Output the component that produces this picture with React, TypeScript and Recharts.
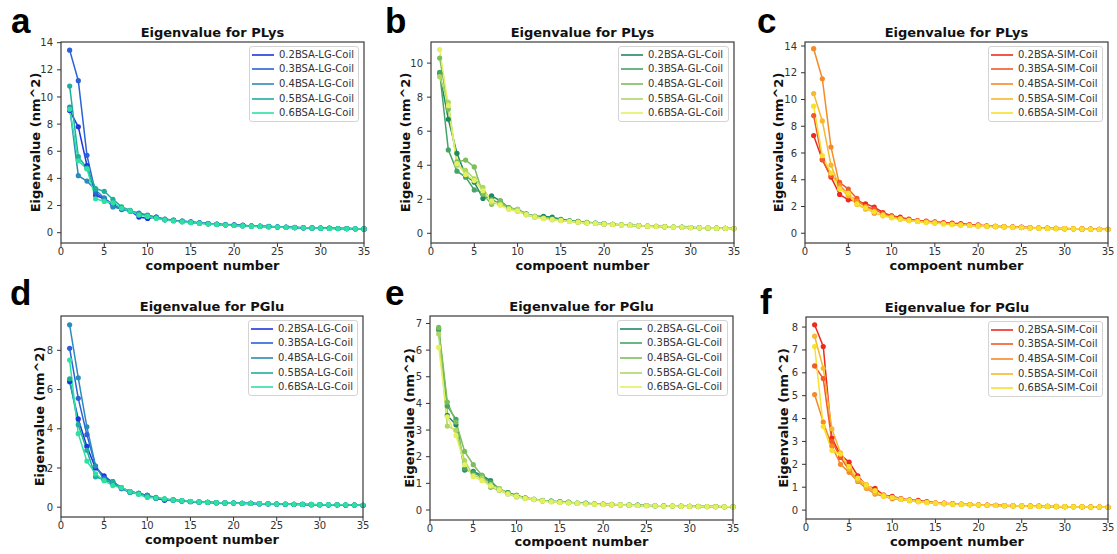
import React from "react";
import { LineChart, Line, XAxis, YAxis, Legend } from "recharts";

// component index (x axis) and shared tick marks
const components = [
  1, 2, 3, 4, 5, 6, 7, 8, 9, 10, 11, 12, 13, 14, 15, 16, 17, 18, 19, 20, 21,
  22, 23, 24, 25, 26, 27, 28, 29, 30, 31, 32, 33, 34, 35,
];
const xTicks = [0, 5, 10, 15, 20, 25, 30, 35];

const lgNames = ["0.2BSA-LG-Coil", "0.3BSA-LG-Coil", "0.4BSA-LG-Coil", "0.5BSA-LG-Coil", "0.6BSA-LG-Coil"];
const glNames = ["0.2BSA-GL-Coil", "0.3BSA-GL-Coil", "0.4BSA-GL-Coil", "0.5BSA-GL-Coil", "0.6BSA-GL-Coil"];
const simNames = ["0.2BSA-SIM-Coil", "0.3BSA-SIM-Coil", "0.4BSA-SIM-Coil", "0.5BSA-SIM-Coil", "0.6BSA-SIM-Coil"];

const lgColors = ["#1e36e0", "#2a62d8", "#2b8bbb", "#1eae9c", "#2fe0a2"];
const glColors = ["#1f8a60", "#45a466", "#7cbd5e", "#b0d666", "#e4f060"];
const simColors = ["#ee2a1e", "#f25a26", "#f58a26", "#f6b82e", "#f8e02e"];

// a: PLys, LG
const plysLg02 = [9.0, 7.8, 4.95, 2.75, 2.5, 2.1, 1.75, 1.6, 1.15, 1.05, 1.15, 0.95, 0.9, 0.84, 0.78, 0.72, 0.67, 0.63, 0.6, 0.58, 0.55, 0.5, 0.48, 0.46, 0.43, 0.41, 0.39, 0.37, 0.35, 0.34, 0.33, 0.31, 0.3, 0.29, 0.28];
const plysLg03 = [13.45, 11.2, 5.7, 2.9, 2.55, 2.0, 1.7, 1.6, 1.4, 1.25, 1.15, 1.0, 0.92, 0.85, 0.79, 0.72, 0.67, 0.62, 0.58, 0.55, 0.52, 0.49, 0.47, 0.45, 0.42, 0.4, 0.38, 0.36, 0.35, 0.33, 0.32, 0.31, 0.3, 0.29, 0.28];
const plysLg04 = [9.25, 4.2, 3.8, 3.15, 2.55, 1.9, 1.75, 1.6, 1.45, 1.3, 1.1, 0.98, 0.9, 0.85, 0.78, 0.72, 0.66, 0.62, 0.58, 0.54, 0.52, 0.49, 0.47, 0.44, 0.42, 0.4, 0.38, 0.36, 0.34, 0.33, 0.32, 0.3, 0.3, 0.29, 0.28];
const plysLg05 = [10.8, 5.6, 4.75, 3.25, 3.05, 2.45, 1.9, 1.65, 1.35, 1.25, 1.1, 0.95, 0.88, 0.8, 0.75, 0.7, 0.65, 0.6, 0.57, 0.54, 0.51, 0.48, 0.46, 0.44, 0.42, 0.4, 0.38, 0.36, 0.34, 0.33, 0.32, 0.31, 0.3, 0.29, 0.28];
const plysLg06 = [9.1, 5.3, 4.7, 2.5, 2.3, 2.2, 1.8, 1.6, 1.3, 1.2, 1.05, 0.95, 0.87, 0.8, 0.74, 0.69, 0.64, 0.6, 0.56, 0.53, 0.5, 0.48, 0.46, 0.43, 0.41, 0.39, 0.37, 0.36, 0.34, 0.33, 0.31, 0.3, 0.29, 0.29, 0.28];

// b: PLys, GL
const plysGl02 = [9.4, 6.7, 4.7, 3.4, 3.0, 2.05, 2.2, 1.9, 1.5, 1.4, 1.15, 1.0, 1.0, 0.95, 0.82, 0.75, 0.7, 0.65, 0.6, 0.57, 0.53, 0.5, 0.48, 0.45, 0.43, 0.41, 0.39, 0.37, 0.36, 0.34, 0.33, 0.31, 0.3, 0.29, 0.28];
const plysGl03 = [9.45, 4.9, 3.65, 3.3, 2.55, 2.4, 2.0, 1.7, 1.5, 1.35, 1.1, 0.97, 0.9, 0.85, 0.78, 0.72, 0.67, 0.62, 0.58, 0.55, 0.52, 0.49, 0.47, 0.45, 0.42, 0.4, 0.38, 0.37, 0.35, 0.34, 0.32, 0.31, 0.3, 0.29, 0.28];
const plysGl04 = [10.3, 7.3, 4.2, 4.3, 3.9, 2.3, 1.7, 1.9, 1.45, 1.3, 1.1, 1.0, 0.9, 0.82, 0.77, 0.72, 0.67, 0.62, 0.58, 0.55, 0.52, 0.49, 0.47, 0.45, 0.43, 0.41, 0.39, 0.37, 0.35, 0.34, 0.32, 0.31, 0.3, 0.29, 0.28];
const plysGl05 = [9.2, 7.7, 4.0, 3.7, 3.2, 2.7, 1.8, 1.7, 1.45, 1.4, 1.1, 0.95, 0.88, 0.8, 0.75, 0.7, 0.66, 0.61, 0.58, 0.55, 0.52, 0.49, 0.47, 0.44, 0.42, 0.4, 0.38, 0.37, 0.35, 0.33, 0.32, 0.31, 0.3, 0.29, 0.28];
const plysGl06 = [10.8, 7.5, 4.1, 3.45, 3.1, 2.5, 1.9, 1.65, 1.4, 1.3, 1.1, 0.97, 0.86, 0.8, 0.75, 0.7, 0.65, 0.6, 0.57, 0.54, 0.51, 0.48, 0.46, 0.44, 0.42, 0.4, 0.38, 0.36, 0.35, 0.33, 0.32, 0.31, 0.3, 0.29, 0.28];

// c: PLys, SIM
const plysSim02 = [7.3, 5.5, 4.2, 2.9, 2.5, 2.4, 2.2, 1.95, 1.55, 1.3, 1.2, 1.05, 0.95, 0.9, 0.85, 0.8, 0.75, 0.72, 0.65, 0.62, 0.56, 0.52, 0.5, 0.47, 0.45, 0.42, 0.4, 0.38, 0.36, 0.35, 0.34, 0.32, 0.31, 0.3, 0.29];
const plysSim03 = [8.8, 5.5, 4.3, 3.8, 3.3, 2.6, 2.0, 1.8, 1.45, 1.3, 1.1, 1.0, 0.93, 0.87, 0.8, 0.74, 0.69, 0.64, 0.6, 0.57, 0.54, 0.51, 0.48, 0.46, 0.44, 0.41, 0.39, 0.37, 0.36, 0.34, 0.33, 0.32, 0.31, 0.3, 0.29];
const plysSim04 = [13.8, 11.55, 6.45, 3.6, 2.9, 2.4, 2.0, 1.5, 1.4, 1.2, 1.1, 0.98, 0.9, 0.85, 0.79, 0.73, 0.68, 0.63, 0.6, 0.56, 0.53, 0.5, 0.48, 0.45, 0.43, 0.41, 0.39, 0.37, 0.35, 0.34, 0.33, 0.31, 0.3, 0.29, 0.28];
const plysSim05 = [10.45, 8.4, 5.1, 3.4, 2.8, 2.15, 1.8, 1.6, 1.3, 1.2, 1.05, 0.95, 0.88, 0.82, 0.77, 0.71, 0.66, 0.62, 0.58, 0.55, 0.52, 0.49, 0.47, 0.45, 0.42, 0.4, 0.38, 0.37, 0.35, 0.34, 0.32, 0.31, 0.3, 0.29, 0.28];
const plysSim06 = [9.5, 5.8, 4.5, 3.3, 3.0, 2.2, 1.9, 1.6, 1.35, 1.15, 1.05, 0.95, 0.87, 0.8, 0.76, 0.7, 0.65, 0.61, 0.58, 0.55, 0.52, 0.49, 0.47, 0.44, 0.42, 0.4, 0.38, 0.36, 0.35, 0.34, 0.32, 0.31, 0.3, 0.29, 0.28];

// d: PGlu, LG
const pgluLg02 = [6.4, 4.5, 3.1, 2.0, 1.6, 1.25, 0.95, 0.8, 0.7, 0.6, 0.45, 0.35, 0.38, 0.32, 0.28, 0.26, 0.25, 0.23, 0.22, 0.21, 0.2, 0.19, 0.18, 0.17, 0.16, 0.15, 0.15, 0.14, 0.13, 0.13, 0.12, 0.12, 0.11, 0.11, 0.1];
const pgluLg03 = [8.1, 5.55, 3.7, 2.1, 1.5, 1.3, 1.0, 0.8, 0.7, 0.6, 0.45, 0.4, 0.37, 0.33, 0.29, 0.27, 0.25, 0.23, 0.22, 0.21, 0.2, 0.19, 0.18, 0.17, 0.16, 0.15, 0.15, 0.14, 0.13, 0.13, 0.12, 0.12, 0.11, 0.11, 0.1];
const pgluLg04 = [9.3, 6.6, 4.1, 2.1, 1.4, 1.2, 0.95, 0.75, 0.68, 0.6, 0.5, 0.4, 0.36, 0.32, 0.29, 0.26, 0.25, 0.23, 0.22, 0.21, 0.2, 0.19, 0.18, 0.17, 0.16, 0.16, 0.15, 0.14, 0.14, 0.13, 0.12, 0.12, 0.11, 0.11, 0.1];
const pgluLg05 = [6.55, 4.2, 2.9, 1.55, 1.4, 1.3, 1.0, 0.75, 0.7, 0.55, 0.48, 0.42, 0.36, 0.32, 0.29, 0.27, 0.25, 0.23, 0.22, 0.21, 0.2, 0.19, 0.18, 0.17, 0.16, 0.15, 0.15, 0.14, 0.13, 0.13, 0.12, 0.12, 0.11, 0.11, 0.1];
const pgluLg06 = [7.5, 3.75, 2.35, 1.7, 1.35, 1.1, 1.0, 0.8, 0.65, 0.5, 0.47, 0.43, 0.37, 0.33, 0.3, 0.27, 0.25, 0.24, 0.22, 0.21, 0.2, 0.19, 0.18, 0.17, 0.16, 0.16, 0.15, 0.14, 0.14, 0.13, 0.13, 0.12, 0.12, 0.11, 0.11];

// e: PGlu, GL
const pgluGl02 = [6.8, 3.55, 3.2, 1.5, 1.45, 1.3, 1.1, 0.75, 0.65, 0.55, 0.45, 0.4, 0.35, 0.33, 0.32, 0.3, 0.25, 0.26, 0.23, 0.22, 0.21, 0.2, 0.19, 0.18, 0.17, 0.16, 0.16, 0.15, 0.15, 0.14, 0.14, 0.13, 0.13, 0.12, 0.12];
const pgluGl03 = [6.75, 3.9, 3.4, 1.55, 1.4, 1.25, 1.05, 0.8, 0.65, 0.55, 0.46, 0.4, 0.36, 0.33, 0.3, 0.28, 0.26, 0.24, 0.23, 0.22, 0.2, 0.19, 0.18, 0.18, 0.17, 0.16, 0.16, 0.15, 0.14, 0.14, 0.13, 0.13, 0.13, 0.12, 0.12];
const pgluGl04 = [6.85, 4.05, 3.3, 2.2, 1.7, 1.3, 0.85, 0.75, 0.6, 0.5, 0.45, 0.4, 0.34, 0.32, 0.3, 0.28, 0.26, 0.24, 0.23, 0.21, 0.2, 0.19, 0.18, 0.17, 0.17, 0.16, 0.15, 0.15, 0.14, 0.14, 0.13, 0.13, 0.12, 0.12, 0.12];
const pgluGl05 = [6.6, 3.15, 3.0, 1.85, 1.3, 1.2, 0.95, 0.8, 0.62, 0.5, 0.44, 0.39, 0.34, 0.31, 0.29, 0.27, 0.25, 0.24, 0.22, 0.21, 0.2, 0.19, 0.18, 0.17, 0.16, 0.16, 0.15, 0.15, 0.14, 0.14, 0.13, 0.13, 0.12, 0.12, 0.12];
const pgluGl06 = [6.1, 3.5, 2.8, 1.7, 1.25, 1.1, 0.9, 0.75, 0.6, 0.52, 0.44, 0.39, 0.34, 0.31, 0.29, 0.27, 0.25, 0.23, 0.22, 0.21, 0.2, 0.19, 0.18, 0.17, 0.16, 0.16, 0.15, 0.15, 0.14, 0.14, 0.13, 0.13, 0.12, 0.12, 0.12];

// f: PGlu, SIM
const pgluSim02 = [8.1, 7.15, 3.15, 2.4, 2.1, 1.5, 1.05, 0.95, 0.65, 0.6, 0.5, 0.45, 0.42, 0.37, 0.32, 0.3, 0.28, 0.26, 0.24, 0.23, 0.22, 0.21, 0.2, 0.19, 0.18, 0.18, 0.17, 0.16, 0.16, 0.15, 0.15, 0.14, 0.14, 0.13, 0.13];
const pgluSim03 = [6.3, 5.75, 3.0, 2.3, 1.75, 1.35, 1.1, 0.8, 0.65, 0.55, 0.48, 0.42, 0.38, 0.35, 0.31, 0.29, 0.27, 0.25, 0.24, 0.23, 0.22, 0.21, 0.2, 0.19, 0.18, 0.17, 0.17, 0.16, 0.15, 0.15, 0.14, 0.14, 0.13, 0.13, 0.12];
const pgluSim04 = [5.05, 3.85, 2.8, 2.0, 1.65, 1.25, 0.95, 0.7, 0.6, 0.5, 0.47, 0.41, 0.37, 0.33, 0.3, 0.28, 0.26, 0.25, 0.24, 0.22, 0.21, 0.2, 0.19, 0.19, 0.18, 0.17, 0.16, 0.16, 0.15, 0.15, 0.14, 0.14, 0.13, 0.13, 0.12];
const pgluSim05 = [7.6, 6.2, 3.55, 2.5, 1.8, 1.3, 1.0, 0.75, 0.65, 0.55, 0.48, 0.42, 0.37, 0.34, 0.31, 0.28, 0.26, 0.25, 0.24, 0.22, 0.21, 0.2, 0.19, 0.19, 0.18, 0.17, 0.17, 0.16, 0.15, 0.15, 0.14, 0.14, 0.13, 0.13, 0.12];
const pgluSim06 = [7.15, 3.65, 2.6, 2.45, 1.9, 1.4, 1.1, 0.85, 0.6, 0.55, 0.47, 0.42, 0.37, 0.33, 0.3, 0.28, 0.26, 0.25, 0.23, 0.22, 0.21, 0.2, 0.19, 0.18, 0.18, 0.17, 0.16, 0.16, 0.15, 0.15, 0.14, 0.14, 0.13, 0.13, 0.12];

const FONT = "'DejaVu Sans', sans-serif";
const INK = "#333";
const MT = 6;
const MR = 8;
const XH = 32;

type Box = { x: number; y: number; w: number; h: number };
type PanelCfg = {
  letter: string;
  letterPos: [number, number];
  title: string;
  box: Box;
  yw: number; // y-axis band width, label sits in its middle
  yDomain: [number, number];
  yTicks: number[];
  names: string[];
  colors: string[];
  series: number[][];
  legendWidth: number;
  xLabelGap: number;
};

const panels: PanelCfg[] = [
  {
    letter: "a", letterPos: [11, 33], title: "Eigenvalue for PLys",
    box: { x: 61, y: 42, w: 303, h: 201 }, yw: 52,
    yDomain: [-0.76, 14.05], yTicks: [0, 2, 4, 6, 8, 10, 12, 14],
    names: lgNames, colors: lgColors,
    series: [plysLg02, plysLg03, plysLg04, plysLg05, plysLg06],
    legendWidth: 110, xLabelGap: 27,
  },
  {
    letter: "b", letterPos: [385, 33], title: "Eigenvalue for PLys",
    box: { x: 431, y: 42, w: 303, h: 201 }, yw: 52,
    yDomain: [-0.57, 11.24], yTicks: [0, 2, 4, 6, 8, 10],
    names: glNames, colors: glColors,
    series: [plysGl02, plysGl03, plysGl04, plysGl05, plysGl06],
    legendWidth: 111, xLabelGap: 27,
  },
  {
    letter: "c", letterPos: [757, 33], title: "Eigenvalue for PLys",
    box: { x: 805, y: 42, w: 303, h: 201 }, yw: 54,
    yDomain: [-0.73, 14.3], yTicks: [0, 2, 4, 6, 8, 10, 12, 14],
    names: simNames, colors: simColors,
    series: [plysSim02, plysSim03, plysSim04, plysSim05, plysSim06],
    legendWidth: 115, xLabelGap: 27,
  },
  {
    letter: "d", letterPos: [10, 305], title: "Eigenvalue for PGlu",
    box: { x: 61, y: 316, w: 302, h: 201 }, yw: 44,
    yDomain: [-0.5, 9.75], yTicks: [0, 2, 4, 6, 8],
    names: lgNames, colors: lgColors,
    series: [pgluLg02, pgluLg03, pgluLg04, pgluLg05, pgluLg06],
    legendWidth: 110, xLabelGap: 27,
  },
  {
    letter: "e", letterPos: [385, 305], title: "Eigenvalue for PGlu",
    box: { x: 430, y: 316, w: 303, h: 204 }, yw: 42,
    yDomain: [-0.375, 7.28], yTicks: [0, 1, 2, 3, 4, 5, 6, 7],
    names: glNames, colors: glColors,
    series: [pgluGl02, pgluGl03, pgluGl04, pgluGl05, pgluGl06],
    legendWidth: 111, xLabelGap: 26,
  },
  {
    letter: "f", letterPos: [760, 314], title: "Eigenvalue for PGlu",
    box: { x: 806, y: 317, w: 302, h: 202 }, yw: 46,
    yDomain: [-0.39, 8.44], yTicks: [0, 1, 2, 3, 4, 5, 6, 7, 8],
    names: simNames, colors: simColors,
    series: [pgluSim02, pgluSim03, pgluSim04, pgluSim05, pgluSim06],
    legendWidth: 115, xLabelGap: 27,
  },
];

function PanelLegend({ names, colors, width }: { names: string[]; colors: string[]; width: number }) {
  return (
    <div
      style={{
        width,
        boxSizing: "border-box",
        border: "1px solid #d4d4d4",
        borderRadius: 3,
        background: "rgba(255,255,255,0.85)",
        padding: "1px 0",
      }}
    >
      {names.map((n, i) => (
        <div key={n} style={{ display: "flex", alignItems: "center", height: 14.6 }}>
          <svg width={29} height={14} style={{ display: "block" }}>
            <line x1={2} x2={24} y1={7} y2={7} stroke={colors[i]} strokeWidth={1.6} />
          </svg>
          <span style={{ fontSize: 10, color: INK, fontFamily: FONT, whiteSpace: "nowrap", lineHeight: "14px" }}>
            {n}
          </span>
        </div>
      ))}
    </div>
  );
}

function Panel({ cfg }: { cfg: PanelCfg }) {
  const { box, yw, yDomain, yTicks, names, colors, series, legendWidth, xLabelGap } = cfg;
  const width = yw + box.w + MR;
  const height = MT + box.h + XH;
  const data = components.map((c, i) => {
    const row: Record<string, number> = { comp: c };
    series.forEach((s, k) => {
      row["s" + k] = s[i];
    });
    return row;
  });

  return (
    <div style={{ position: "absolute", left: box.x - yw, top: box.y - MT }}>
      <LineChart width={width} height={height} data={data} margin={{ top: MT, right: MR, bottom: 0, left: 0 }}>
        <XAxis
          dataKey="comp"
          type="number"
          domain={[0, 35]}
          ticks={xTicks}
          interval={0}
          height={XH}
          axisLine={false}
          tickLine={{ stroke: INK }}
          tickSize={4}
          tickMargin={1}
          tick={{ fontSize: 10, fill: INK, fontFamily: FONT }}
          label={{
            value: "compoent number",
            position: "insideBottom",
            offset: XH - xLabelGap,
            fontSize: 13,
            fontWeight: "bold",
            fill: "#111",
            fontFamily: FONT,
          }}
        />
        <YAxis
          type="number"
          domain={yDomain}
          ticks={yTicks}
          interval={0}
          allowDataOverflow
          width={yw}
          axisLine={false}
          tickLine={{ stroke: INK }}
          tickSize={4}
          tickMargin={4}
          tick={{ fontSize: 10, fill: INK, fontFamily: FONT }}
          label={{
            value: "Eigenvalue (nm^2)",
            angle: -90,
            position: "center",
            fontSize: 13,
            fontWeight: "bold",
            fill: "#111",
            fontFamily: FONT,
          }}
        />
        {series.map((_, k) => (
          <Line
            key={k}
            type="linear"
            dataKey={"s" + k}
            name={names[k]}
            stroke={colors[k]}
            strokeWidth={1.5}
            dot={{ r: 2.6, fill: colors[k], stroke: colors[k], strokeWidth: 0 }}
            activeDot={false}
            isAnimationActive={false}
          />
        ))}
        <Legend
          layout="vertical"
          align="center"
          verticalAlign="middle"
          wrapperStyle={{ left: yw + box.w - 5 - legendWidth, top: MT + 3.5, width: legendWidth, height: "auto" }}
          content={() => <PanelLegend names={names} colors={colors} width={legendWidth} />}
        />
      </LineChart>
    </div>
  );
}

export default function App() {
  return (
    <div style={{ position: "absolute", left: 0, top: 0, width: 1117, height: 554, background: "#fff", overflow: "hidden" }}>
      {panels.map((p) => (
        <Panel key={p.letter} cfg={p} />
      ))}
      <svg width={1117} height={554} style={{ position: "absolute", left: 0, top: 0, pointerEvents: "none" }}>
        {panels.map((p) => (
          <g key={p.letter}>
            <rect x={p.box.x} y={p.box.y} width={p.box.w} height={p.box.h} fill="none" stroke="#3a3a3a" strokeWidth={1.2} />
            <text
              x={p.box.x + p.box.w / 2}
              y={p.box.y - 5}
              textAnchor="middle"
              fontFamily={FONT}
              fontWeight="bold"
              fontSize={13}
              fill="#111"
            >
              {p.title}
            </text>
            <text
              x={p.letterPos[0]}
              y={p.letterPos[1]}
              fontFamily="'Liberation Sans', Arial, sans-serif"
              fontWeight="bold"
              fontSize={35}
              fill="#000"
            >
              {p.letter}
            </text>
          </g>
        ))}
      </svg>
    </div>
  );
}
